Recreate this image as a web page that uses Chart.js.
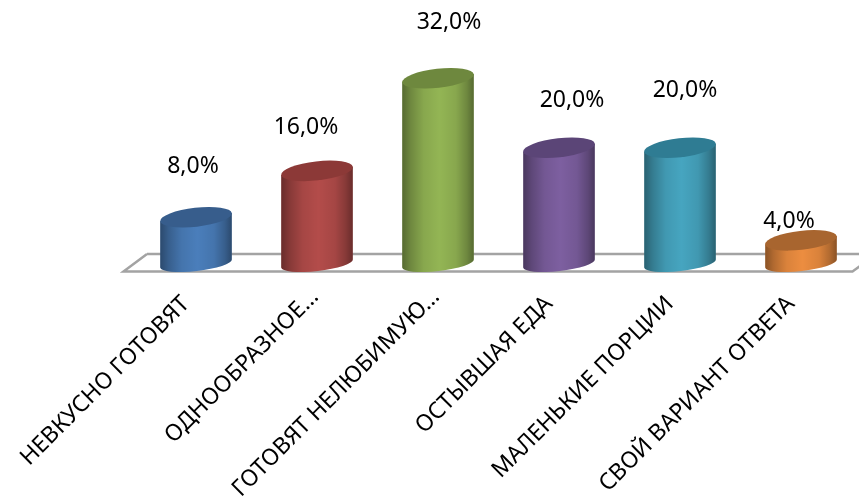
<!DOCTYPE html>
<html lang="ru">
  <head>
    <meta charset="UTF-8" />
    <title>Chart</title>
    <script src="https://cdn.jsdelivr.net/npm/chart.js"></script>
    <style>
      html, body { margin: 0; padding: 0; background: #fff; overflow: hidden; }
      canvas { display: block; }
    </style>
  </head>
  <body>
    <canvas id="chart" width="880" height="496"></canvas>
    <script>
      const categories = [
        "НЕВКУСНО ГОТОВЯТ",
        "ОДНООБРАЗНОЕ…",
        "ГОТОВЯТ НЕЛЮБИМУЮ…",
        "ОСТЫВШАЯ ЕДА",
        "МАЛЕНЬКИЕ ПОРЦИИ",
        "СВОЙ ВАРИАНТ ОТВЕТА",
      ];
      const values = [8, 16, 32, 20, 20, 4];

      const centerColors = ["#4a7ebb", "#b34c4a", "#93b554", "#7d5fa0", "#46a5c0", "#ec8d40"];
      const topColors = ["#375d8c", "#8c3937", "#6e883e", "#5b4577", "#2f7c93", "#a8652f"];

      // hand placed labels, same as in the original chart: [dx from bar, dy above top]
      const labelDx = [-3, -11, 11, 13, 5, -12];
      const labelDy = [51, 43, 56, 47, 57, 19];
      // the two cut off category labels sit a bit further along the diagonal
      const tickNudgeX = [0, 8, 8, 0, 0, 0];
      const tickNudgeY = [0, -7, -7, 0, 0, 0];

      const fontName = "'Noto Sans', sans-serif";
      const tilt = (-6.5 * Math.PI) / 180;
      const ryTop = 9.5;
      const ryBottom = 7.5;

      const shade = [
        [0, 0.42],
        [0.12, 0.25],
        [0.3, 0.08],
        [0.52, 0],
        [0.75, 0.08],
        [0.9, 0.25],
        [1, 0.42],
      ];

      const cylinders = {
        id: "cylinders",
        afterUpdate(chart) {
          chart.scales.x.getLabelItems().forEach((item, i) => {
            item.options.translation[0] += tickNudgeX[i];
            item.options.translation[1] += tickNudgeY[i];
          });
        },
        beforeDatasetsDraw(chart) {
          const { ctx, chartArea } = chart;
          const left = chartArea.left;
          const base = chartArea.bottom;
          ctx.save();
          ctx.strokeStyle = "#a3a3a3";
          ctx.lineWidth = 2.5;
          ctx.beginPath();
          ctx.moveTo(left + 11.5, base - 9.5);
          ctx.lineTo(chartArea.right + 15, base - 9.5);
          ctx.moveTo(left + 11.5, base - 9.5);
          ctx.lineTo(left - 12, base + 8);
          ctx.lineTo(chartArea.right - 9, base + 8);
          ctx.lineTo(chartArea.right + 15, base - 9.5);
          ctx.stroke();
          ctx.restore();
        },
        afterDatasetsDraw(chart) {
          const { ctx } = chart;
          chart.getDatasetMeta(0).data.forEach((bar, i) => {
            const cx = bar.x;
            const rx = bar.width / 2;
            const topY = bar.y;
            const botY = bar.base;
            const ex = rx * Math.cos(tilt);
            const ey = rx * Math.sin(tilt);

            const grad = ctx.createLinearGradient(cx - rx, 0, cx + rx, 0);
            shade.forEach((s) => grad.addColorStop(s[0], "rgba(0,0,0," + s[1] + ")"));

            ctx.save();
            const side = new Path2D();
            side.moveTo(cx - ex, topY - ey);
            side.lineTo(cx - ex, botY - ey);
            side.ellipse(cx, botY, rx, ryBottom, tilt, Math.PI, 0, true);
            side.lineTo(cx + ex, topY + ey);
            side.closePath();
            ctx.fillStyle = centerColors[i];
            ctx.fill(side);
            ctx.fillStyle = grad;
            ctx.fill(side);

            ctx.fillStyle = topColors[i];
            ctx.beginPath();
            ctx.ellipse(cx, topY, rx, ryTop, tilt, 0, Math.PI * 2);
            ctx.fill();

            ctx.fillStyle = "#000";
            ctx.font = "23px " + fontName;
            ctx.textAlign = "center";
            ctx.textBaseline = "middle";
            ctx.fillText(values[i].toFixed(1).replace(".", ",") + "%", cx + labelDx[i], topY - labelDy[i]);
            ctx.restore();
          });
        },
      };

      new Chart(document.getElementById("chart"), {
        type: "bar",
        data: {
          labels: categories,
          datasets: [
            {
              data: values,
              backgroundColor: "rgba(0,0,0,0)",
              barPercentage: 0.595,
              categoryPercentage: 1,
            },
          ],
        },
        options: {
          responsive: false,
          animation: false,
          layout: { padding: { left: 135.5, right: 18.5, top: 3, bottom: 0 } },
          plugins: { legend: { display: false }, tooltip: { enabled: false } },
          scales: {
            x: {
              grid: { display: false },
              border: { display: false },
              afterFit(scale) {
                scale.height = 232.5;
                scale.paddingLeft = 0;
                scale.paddingRight = 0;
              },
              ticks: {
                autoSkip: false,
                minRotation: 45,
                maxRotation: 45,
                padding: 19,
                labelOffset: -10,
                color: "#000",
                font: { family: fontName, size: 23 },
              },
            },
            y: { display: false, min: 0, max: 45 },
          },
        },
        plugins: [cylinders],
      });
    </script>
  </body>
</html>
